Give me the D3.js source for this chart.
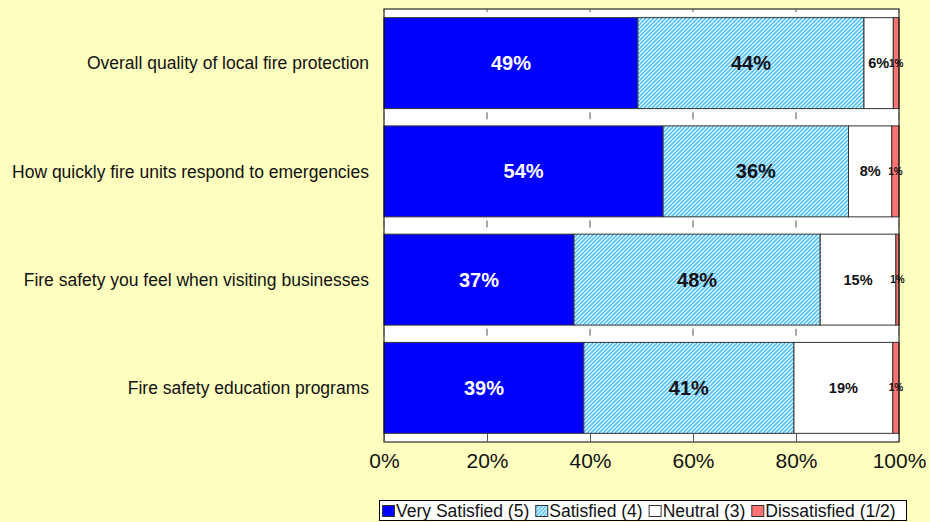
<!DOCTYPE html>
<html>
<head>
<meta charset="utf-8">
<script src="https://cdn.jsdelivr.net/npm/d3@7"></script>
<style>
    body { margin: 0; background: #FFFFC0; }
    svg { display: block; font-family: "Liberation Sans", Arial, sans-serif; }
</style>
</head>
<body>
<svg id="chart"></svg>
<script>
// Chart data (percent of respondents)
var categories = [
    "Overall quality of local fire protection",
    "How quickly fire units respond to emergencies",
    "Fire safety you feel when visiting businesses",
    "Fire safety education programs"
];
var verySatisfied = [49.3, 54.2, 36.9, 38.8];
var satisfied = [43.9, 36.0, 47.8, 40.8];
var neutral = [5.7, 8.4, 14.7, 19.2];
var dissatisfied = [1.1, 1.4, 0.6, 1.2];

var seriesNames = ["Very Satisfied (5)", "Satisfied (4)", "Neutral (3)", "Dissatisfied (1/2)"];
var tickValues = [0, 20, 40, 60, 80, 100];

function drawChart() {
    var width = 930,
        height = 522;

    var plot = {left: 384, top: 9, right: 899, bottom: 442};

    var svg = d3.select("#chart")
        .attr("width", width)
        .attr("height", height);

    // Hatch pattern for "Satisfied"
    var defs = svg.append("defs");
    var pat = defs.append("pattern")
        .attr("id", "hatch")
        .attr("patternUnits", "userSpaceOnUse")
        .attr("width", 4)
        .attr("height", 4);
    pat.append("rect").attr("width", 4).attr("height", 4).attr("fill", "#fff");
    pat.append("path")
        .attr("d", "M-1,1 L1,-1 M0,4 L4,0 M3,5 L5,3")
        .attr("stroke", "#4EC4FF")
        .attr("stroke-width", 1.6);

    var fills = ["#0000FF", "url(#hatch)", "#FFFFFF", "#FF7373"];
    var labelColours = ["#fff", "#111", "#111", "#111"];
    var labelSizes = [20, 20, 14.5, 10];

    var x = d3.scaleLinear().domain([0, 100]).range([plot.left, plot.right]);
    var y = d3.scaleBand()
        .domain(categories)
        .range([plot.top, plot.bottom])
        .paddingInner(0.16)
        .paddingOuter(0.08);

    // Plot area
    svg.append("rect")
        .attr("x", plot.left)
        .attr("y", plot.top)
        .attr("width", plot.right - plot.left)
        .attr("height", plot.bottom - plot.top)
        .attr("fill", "#fff");

    // Stack the series
    var rows = categories.map(function (c, i) {
        return {cat: c, s0: verySatisfied[i], s1: satisfied[i], s2: neutral[i], s3: dissatisfied[i]};
    });
    var stack = d3.stack().keys(["s0", "s1", "s2", "s3"]);
    var layers = stack(rows);

    var g = svg.selectAll(".layer")
        .data(layers)
        .enter().append("g")
        .attr("class", "layer");

    g.selectAll("rect")
        .data(function (d) { return d; })
        .enter().append("rect")
        .attr("x", function (d) { return x(d[0]); })
        .attr("y", function (d) { return y(d.data.cat); })
        .attr("width", function (d) { return x(d[1]) - x(d[0]); })
        .attr("height", y.bandwidth())
        .attr("fill", function (d) { return fills[d3.select(this.parentNode).datum().index]; })
        .attr("stroke", "#333")
        .attr("stroke-width", 1);

    // Segment labels
    g.selectAll("text")
        .data(function (d) { return d; })
        .enter().append("text")
        .attr("x", function (d) { return (x(d[0]) + x(d[1])) / 2; })
        .attr("y", function (d) { return y(d.data.cat) + y.bandwidth() / 2; })
        .attr("dy", ".35em")
        .style("text-anchor", "middle")
        .style("font-weight", "bold")
        .style("font-size", function () { return labelSizes[d3.select(this.parentNode).datum().index] + "px"; })
        .attr("fill", function () { return labelColours[d3.select(this.parentNode).datum().index]; })
        .text(function (d) { return Math.round(d[1] - d[0]) + "%"; });

    // Plot border
    svg.append("rect")
        .attr("x", plot.left)
        .attr("y", plot.top)
        .attr("width", plot.right - plot.left)
        .attr("height", plot.bottom - plot.top)
        .attr("fill", "none")
        .attr("stroke", "#000")
        .attr("stroke-width", 1);

    // Small tick marks between the bars
    var step = y.step();
    var boundaries = [1, 2, 3].map(function (k) { return plot.top + k * step; });
    boundaries.forEach(function (b) {
        svg.selectAll(null)
            .data(tickValues)
            .enter().append("line")
            .attr("x1", function (d) { return x(d); })
            .attr("x2", function (d) { return x(d); })
            .attr("y1", b - 5)
            .attr("y2", b + 2)
            .attr("stroke", "#555");
    });
    svg.selectAll(null)
        .data(tickValues)
        .enter().append("line")
        .attr("x1", function (d) { return x(d); })
        .attr("x2", function (d) { return x(d); })
        .attr("y1", plot.top)
        .attr("y2", plot.top + 3)
        .attr("stroke", "#555");

    // Bottom axis
    var axis = d3.axisBottom(x)
        .tickValues(tickValues)
        .tickSizeInner(-8)
        .tickSizeOuter(0)
        .tickPadding(11)
        .tickFormat(function (d) { return d + "%"; });
    var ax = svg.append("g")
        .attr("transform", "translate(0," + plot.bottom + ")")
        .call(axis);
    ax.select(".domain").remove();
    ax.selectAll("line").attr("stroke", "#555");
    ax.selectAll("text")
        .style("font-size", "21px")
        .style("font-family", "Liberation Sans, Arial, sans-serif")
        .attr("fill", "#111");

    // Category labels
    svg.selectAll(".cat")
        .data(categories)
        .enter().append("text")
        .attr("class", "cat")
        .attr("x", 369)
        .attr("y", function (d) { return y(d) + y.bandwidth() / 2; })
        .attr("dy", ".35em")
        .style("text-anchor", "end")
        .style("font-size", "17.5px")
        .attr("fill", "#111")
        .text(function (d) { return d; });

    // Legend: items flow left to right
    var legend = svg.append("g");
    legend.append("rect")
        .attr("x", 379.5)
        .attr("y", 500.5)
        .attr("width", 527)
        .attr("height", 20)
        .attr("fill", "#fff")
        .attr("stroke", "#000");
    var cursor = 382;
    seriesNames.forEach(function (name, i) {
        var item = legend.append("g")
            .attr("transform", "translate(" + cursor + ",505)");
        item.append("rect")
            .attr("x", 0.5)
            .attr("y", 0.5)
            .attr("width", 12)
            .attr("height", 11)
            .attr("fill", fills[i])
            .attr("stroke", "#333");
        var t = item.append("text")
            .attr("x", 14)
            .attr("y", 6)
            .attr("dy", ".36em")
            .style("font-size", "17.5px")
            .attr("fill", "#111")
            .text(name);
        cursor += 14 + t.node().getComputedTextLength() + 6;
    });
}

drawChart();
</script>
</body>
</html>
